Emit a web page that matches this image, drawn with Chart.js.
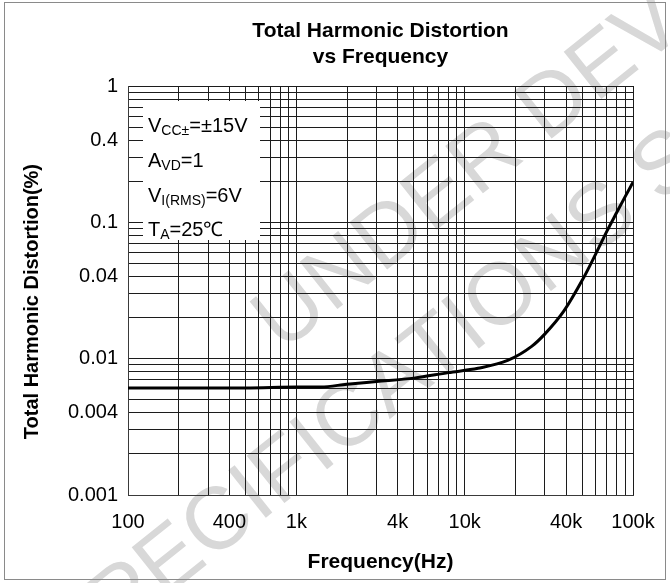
<!DOCTYPE html>
<html>
<head>
<meta charset="utf-8">
<script src="https://cdn.jsdelivr.net/npm/chart.js@4/dist/chart.umd.min.js"></script>
<style>
html,body{margin:0;padding:0;background:#fff;}
#wrap{width:670px;height:583px;position:relative;}
canvas{display:block;}
</style>
</head>
<body>
<div id="wrap"><canvas id="c" width="670" height="583"></canvas></div>
<script>
// ---- data ----
const frequencies = [100, 200, 500, 1000, 1400, 2000, 3000, 5000, 8000, 12000, 18000, 25000, 30000, 38700, 50000, 60000, 70000, 80000, 90000, 100000];
const thdPercent  = [0.0061, 0.0061, 0.0061, 0.0062, 0.0062, 0.0065, 0.0068, 0.0072, 0.0079, 0.0085, 0.0097, 0.0123, 0.0152, 0.0222, 0.0377, 0.0585, 0.0862, 0.118, 0.155, 0.197];

const xLabelValues = [100, 400, 1000, 4000, 10000, 40000, 100000];
const xLabelTexts  = ['100', '400', '1k', '4k', '10k', '40k', '100k'];
const yLabelValues = [0.001, 0.004, 0.01, 0.04, 0.1, 0.4, 1];
const yLabelTexts  = ['0.001', '0.004', '0.01', '0.04', '0.1', '0.4', '1'];

const xDecades = [100, 1000, 10000];
const yDecades = [0.001, 0.01, 0.1];
const gridMultiples = [1, 2, 3, 4, 5, 6, 7, 8, 9];

const titleLines = ['Total Harmonic Distortion', 'vs Frequency'];
const xTitle = 'Frequency(Hz)';
const yTitle = 'Total Harmonic Distortion(%)';

// conditions box: [main, subscript, rest]
const conditions = [
  ['V', 'CC\u00B1', '=\u00B115V'],
  ['A', 'VD', '=1'],
  ['V', 'I(RMS)', '=6V'],
  ['T', 'A', '=25\u2103']
];

// background watermark lines
const watermarkLines = ['UNDER DEVELOPMENT', 'SPECIFICATIONS SUBJECT TO CHANGE'];

// ---- helpers ----
function gridValues(decades, last) {
  const out = [];
  decades.forEach(d => gridMultiples.forEach(m => out.push(+(d * m).toPrecision(6))));
  out.push(last);
  return out;
}
const xGrid = gridValues(xDecades, 100000);
const yGrid = gridValues(yDecades, 1);

function labelFor(v, vals, texts) {
  for (let i = 0; i < vals.length; i++) {
    if (Math.abs(v - vals[i]) / vals[i] < 1e-6) return texts[i];
  }
  return '';
}

const FONT = "'Liberation Sans', Arial, sans-serif";

const watermarkPlugin = {
  id: 'watermark',
  beforeDraw(chart) {
    const ctx = chart.ctx;
    const starts = [[282, 353], [72, 672]];
    ctx.save();
    ctx.fillStyle = '#d8d8d8';
    ctx.font = '88px ' + FONT;
    ctx.textBaseline = 'alphabetic';
    ctx.textAlign = 'left';
    watermarkLines.forEach((t, i) => {
      ctx.save();
      ctx.translate(starts[i][0], starts[i][1]);
      ctx.rotate(-38.5 * Math.PI / 180);
      ctx.fillText(t, 0, 0);
      ctx.restore();
    });
    ctx.restore();
  }
};

const framePlugin = {
  id: 'frame',
  afterDraw(chart) {
    const ctx = chart.ctx;
    ctx.save();
    ctx.strokeStyle = '#8a8a8a';
    ctx.lineWidth = 1;
    ctx.strokeRect(4.5, 2.5, 661, 577);
    ctx.restore();
  }
};

const conditionsPlugin = {
  id: 'conditions',
  afterDatasetsDraw(chart) {
    const ctx = chart.ctx;
    ctx.save();
    ctx.fillStyle = '#ffffff';
    ctx.fillRect(143, 101, 117, 139);
    ctx.fillStyle = '#000';
    ctx.textBaseline = 'alphabetic';
    ctx.textAlign = 'left';
    const baselines = [131.5, 166.5, 201.5, 236];
    conditions.forEach((c, i) => {
      let x = 148;
      const y = baselines[i];
      ctx.font = '20px ' + FONT;
      ctx.fillText(c[0], x, y);
      x += ctx.measureText(c[0]).width;
      ctx.font = '14px ' + FONT;
      ctx.fillText(c[1], x, y + 3);
      x += ctx.measureText(c[1]).width;
      ctx.font = '20px ' + FONT;
      ctx.fillText(c[2], x, y);
    });
    ctx.restore();
  }
};

new Chart(document.getElementById('c'), {
  type: 'line',
  data: {
    datasets: [{
      data: frequencies.map((f, i) => ({x: f, y: thdPercent[i]})),
      borderColor: '#000',
      borderWidth: 3,
      pointRadius: 0,
      fill: false,
      cubicInterpolationMode: 'monotone'
    }]
  },
  options: {
    responsive: false,
    animation: false,
    devicePixelRatio: 1,
    layout: { padding: { left: 0, right: 37, top: 0, bottom: 0 } },
    plugins: {
      legend: { display: false },
      tooltip: { enabled: false },
      title: {
        display: true,
        text: titleLines,
        fullSize: false,
        color: '#000',
        font: { family: FONT, size: 21, weight: 'bold', lineHeight: 1.2 },
        padding: { top: 19, bottom: 16.6 }
      }
    },
    scales: {
      x: {
        type: 'logarithmic',
        min: 100,
        max: 100000,
        afterBuildTicks: s => { s.ticks = xGrid.map(v => ({ value: v })); },
        afterFit: s => { s.height = 88; },
        ticks: {
          autoSkip: false,
          maxRotation: 0,
          minRotation: 0,
          padding: 15,
          color: '#000',
          font: { family: FONT, size: 20 },
          callback: v => labelFor(v, xLabelValues, xLabelTexts)
        },
        grid: { color: '#1c1c1c', lineWidth: 1, drawTicks: false },
        border: { display: true, color: '#3a3a3a', width: 1 },
        title: {
          display: true,
          text: xTitle,
          color: '#000',
          font: { family: FONT, size: 21, weight: 'bold' },
          padding: { top: 0, bottom: 8 }
        }
      },
      y: {
        type: 'logarithmic',
        min: 0.001,
        max: 1,
        afterBuildTicks: s => { s.ticks = yGrid.map(v => ({ value: v })); },
        afterFit: s => { s.width = 128; },
        ticks: {
          autoSkip: false,
          padding: 10,
          color: '#000',
          font: { family: FONT, size: 20 },
          callback: v => labelFor(v, yLabelValues, yLabelTexts)
        },
        grid: { color: '#1c1c1c', lineWidth: 1, drawTicks: false },
        border: { display: true, color: '#3a3a3a', width: 1 },
        title: {
          display: true,
          text: yTitle + '    ',
          color: '#000',
          font: { family: FONT, size: 20, weight: 'bold' },
          padding: { top: 20, bottom: 0 }
        }
      }
    }
  },
  plugins: [watermarkPlugin, conditionsPlugin, framePlugin]
});
</script>
</body>
</html>
